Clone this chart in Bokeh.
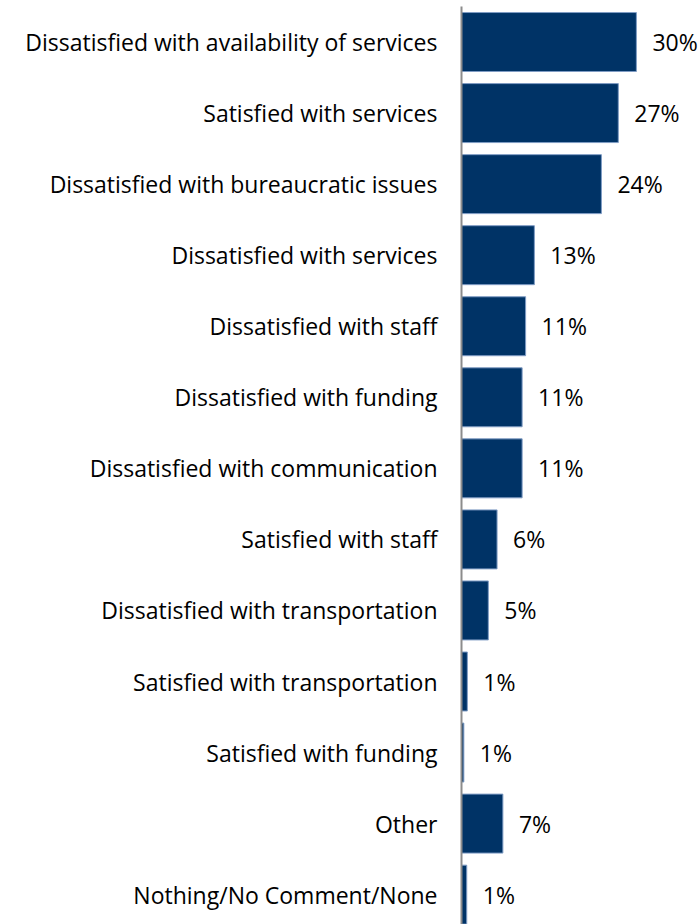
from bokeh.plotting import figure
from bokeh.models import Range1d, FixedTicker, ColumnDataSource
from bokeh.core.properties import value
from bokeh.embed import file_html
from bokeh.resources import INLINE

categories = [
    "Dissatisfied with availability of services",
    "Satisfied with services",
    "Dissatisfied with bureaucratic issues",
    "Dissatisfied with services",
    "Dissatisfied with staff",
    "Dissatisfied with funding",
    "Dissatisfied with communication",
    "Satisfied with staff",
    "Dissatisfied with transportation",
    "Satisfied with transportation",
    "Satisfied with funding",
    "Other",
    "Nothing/No Comment/None",
]
values = [30.0, 26.9, 24.0, 12.5, 11.0, 10.4, 10.4, 6.1, 4.6, 1.0, 0.4, 7.1, 0.9]
value_labels = ["30%", "27%", "24%", "13%", "11%", "11%", "11%", "6%", "5%", "1%", "1%", "7%", "1%"]

FONT = "Open Sans"
positions = list(range(len(categories)))

src = ColumnDataSource(dict(y=positions, v=values, lab=value_labels))

p = figure(width=700, height=924, output_backend="svg", toolbar_location=None,
           x_range=Range1d(0, 41), y_range=Range1d(12.42, -0.5),
           min_border_left=461, min_border_right=0, min_border_top=6, min_border_bottom=0)
p.outline_line_color = None
p.xaxis.visible = False
p.grid.visible = False
p.background_fill_color = "white"
p.border_fill_color = "white"

p.hbar(y="y", left=0, right="v", height=0.83, source=src,
       fill_color="#003366", line_color="#7f9cc4", line_width=1)
p.text(x="v", y="y", text="lab", source=src, x_offset=16,
       text_align="left", text_baseline="middle",
       text_font=value(FONT), text_font_size="23px", text_color="#000000")

ax = p.yaxis[0]
ax.ticker = FixedTicker(ticks=positions)
ax.major_label_overrides = {i: c for i, c in enumerate(categories)}
ax.major_tick_line_color = None
ax.minor_tick_line_color = None
ax.major_tick_out = 0
ax.major_tick_in = 0
ax.major_label_standoff = 24
ax.axis_line_color = "#8c8c8c"
ax.axis_line_width = 2
ax.major_label_text_font = FONT
ax.major_label_text_font_size = "23px"
ax.major_label_text_color = "#000000"

open("out.html", "w").write(file_html(p, INLINE))
